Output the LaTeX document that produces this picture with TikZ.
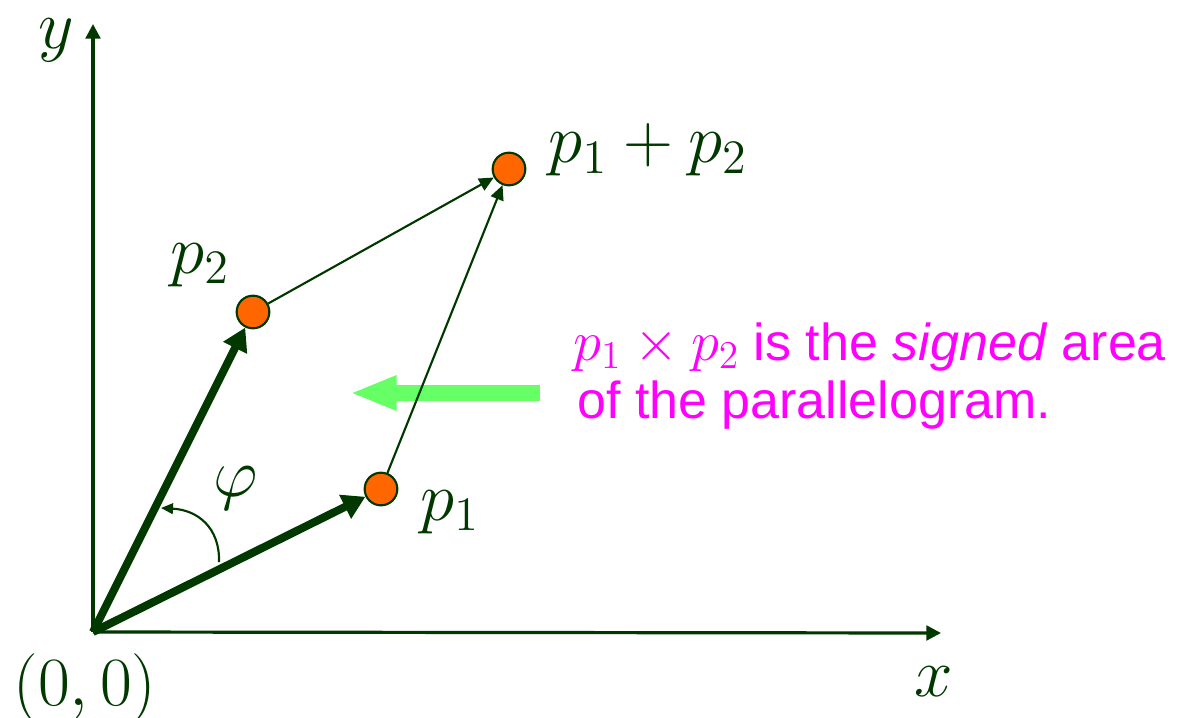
\documentclass[tikz,border=0pt]{standalone}
\usepackage[no-math]{fontspec}
\usepackage{graphicx}
\newfontfamily\arialfont{Liberation Sans}
\usetikzlibrary{arrows.meta}
\definecolor{dkgreen}{RGB}{0,56,0}
\definecolor{ptorange}{RGB}{255,102,0}
\definecolor{lgreen}{RGB}{102,255,102}
\definecolor{mag}{RGB}{255,0,255}
\newcommand{\bigmath}[1]{\scalebox{2.5}{$#1$}}
\begin{document}
\begin{tikzpicture}[x=0.75pt,y=-0.75pt,
  ptnode/.style={circle, fill=ptorange, draw=dkgreen, line width=1.6pt, minimum size=24.5pt, inner sep=0pt},
  axisline/.style={draw=dkgreen, line width=2.4pt, -{Triangle[length=11pt,width=11pt]}},
  vecline/.style={draw=dkgreen, line width=6pt, -{Triangle[length=17pt,width=19pt]}},
  edgearrow/.style={draw=dkgreen, line width=1.6pt, -{Triangle[length=11pt,width=10pt]}},
  arcarrow/.style={draw=dkgreen, line width=1.6pt, -{Triangle[length=9pt,width=8pt]}},
  bigarrow/.style={draw=lgreen, line width=12pt, -{Triangle[length=35pt,width=24pt]}},
  lbl/.style={text=dkgreen, font=\fontsize{20}{24}\selectfont, inner sep=0pt},
  mtxt/.style={text=mag, font=\arialfont\fontsize{39}{46}\selectfont, inner sep=0pt, anchor=base west}
]
\useasboundingbox (0,0) rectangle (1186,718);

% points
\coordinate (O) at (93,632);
\coordinate (ytip) at (93,24);
\coordinate (xtip) at (941,633);
\node[ptnode] (p1) at (381,489) {};
\node[ptnode] (p2) at (253,312) {};
\node[ptnode] (p12) at (509,169) {};

% green arrow (under the edge)
\coordinate (gs) at (540,393);
\coordinate (ge) at (350,393);
\draw[bigarrow] (gs) -- (ge);

% axes
\draw[axisline] (O) -- (ytip);
\draw[axisline] (O) -- (xtip);

% vectors
\draw[vecline] (O) -- (p1);
\draw[vecline] (O) -- (p2);
\draw[edgearrow] (p2) -- (p12);
\draw[edgearrow] (p1) -- (p12);

% angle arc
\coordinate (a1) at (219,562);
\coordinate (a2) at (161,508);
\draw[arcarrow] (a1) .. controls (220,528) and (198,510) .. (a2);

% labels
\node[lbl] (ylab) at (56,40) {\bigmath{y}};
\node[lbl] (xlab) at (934,682) {\bigmath{x}};
\node[lbl] (olab) at (85,688) {\bigmath{(0,0)}};
\node[lbl] (p2lab) at (200,265) {\bigmath{p_2}};
\node[lbl] (p1lab) at (450,512) {\bigmath{p_1}};
\node[lbl] (p12lab) at (648,150) {\bigmath{p_1+p_2}};
\node[lbl] (philab) at (236,488) {\bigmath{\varphi}};

\node[mtxt] (t1) at (573,360) {{\fontsize{20}{24}\selectfont\scalebox{2.05}{$p_1\times p_2$}} is the \textit{signed} area};
\node[mtxt] (t2) at (577,418) {of the parallelogram.};
\end{tikzpicture}
\end{document}
